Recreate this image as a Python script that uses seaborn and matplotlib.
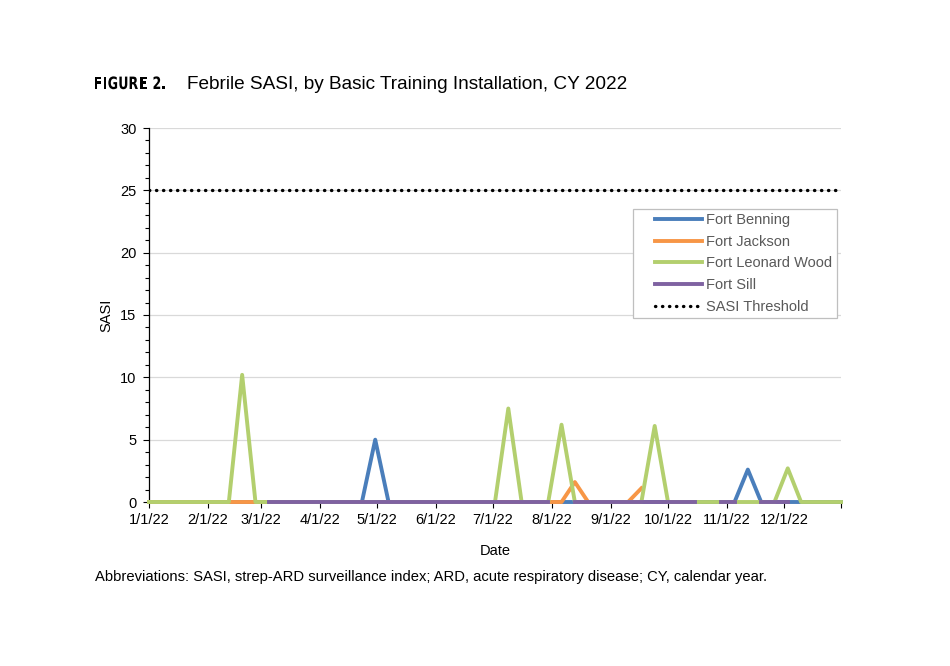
import pandas as pd
import numpy as np
import matplotlib
matplotlib.use("Agg")
import matplotlib.pyplot as plt
from matplotlib.lines import Line2D
from matplotlib.textpath import TextPath
from matplotlib.patches import PathPatch, Rectangle
from matplotlib.font_manager import FontProperties
from matplotlib.transforms import Affine2D
import seaborn as sns

# weekly reporting dates (Saturdays) for CY 2022
dates = pd.date_range("2022-01-01", "2022-12-31", freq="7D")

nan = np.nan
fort_benning = [0, 0, 0, 0, 0, 0, 0, 0, 0, 0, 0, 0, 0, 0, 0, 0, 0, 5.0,
                0, 0, 0, 0, 0, 0, 0, 0, 0, 0, 0, 0, 0, 0, 0, 0, 0, 0,
                0, 0, 0, 0, 0, 0, 0, 0, 0, 2.6, 0, 0, 0, 0, 0, 0, 0]
fort_jackson = [0, 0, 0, 0, 0, 0, 0, 0, 0, 0, 0, 0, 0, 0, 0, 0, 0, 0,
                0, 0, 0, 0, 0, 0, 0, 0, 0, 0, 0, 0, 0, 0, 1.6, 0, 0, 0,
                0, 1.1, nan, nan, nan, nan, nan, nan, nan, nan, nan, nan, nan, nan, nan, nan, nan]
fort_leonard_wood = [0, 0, 0, 0, 0, 0, 0, 10.2, 0, 0, 0, 0, 0, 0, 0, 0, 0, 0,
                     0, 0, 0, 0, 0, 0, 0, 0, 0, 7.5, 0, 0, 0, 6.2, 0, 0, 0, 0,
                     0, 0, 6.1, 0, 0, 0, 0, 0, 0, 0, 0, 0, 2.7, 0, 0, 0, 0]
fort_sill = [nan, nan, nan, nan, nan, nan, nan, nan, nan, 0, 0, 0, 0, 0, 0, 0, 0, 0,
             0, 0, 0, 0, 0, 0, 0, 0, 0, 0, 0, 0, 0, nan, 0, 0, 0, 0,
             0, 0, 0, 0, 0, 0, nan, 0, 0, nan, 0, 0, 0, nan, nan, nan, nan]
threshold = [25] * len(dates)

series_names = ["Fort Benning", "Fort Jackson", "Fort Leonard Wood", "Fort Sill"]
series_values = [fort_benning, fort_jackson, fort_leonard_wood, fort_sill]
colors = ["#4A7EBB", "#F79646", "#B3CF6E", "#7F62A1"]

# long format, with a segment id so gaps (missing weeks) stay as breaks
rows = []
for name, vals in zip(series_names, series_values):
    seg = 0
    prev_nan = False
    for d, v in zip(dates, vals):
        if np.isnan(v):
            prev_nan = True
            continue
        if prev_nan:
            seg += 1
            prev_nan = False
        rows.append({"Date": d, "SASI": v, "series": name, "seg": f"{name}-{seg}"})
df = pd.DataFrame(rows)

plt.rcParams["font.family"] = ["Liberation Sans", "DejaVu Sans"]

fig = plt.figure(figsize=(9.5, 6.66), dpi=100)
ax = fig.add_axes([149 / 950, 164 / 666, 692 / 950, 374 / 666])

dots = (0, (0.1, 2.0))
sns.lineplot(data=df, x="Date", y="SASI", hue="series", units="seg", estimator=None,
             hue_order=series_names, palette=colors, linewidth=2.8, legend=False,
             ax=ax, zorder=3, clip_on=False)
sns.lineplot(x=dates, y=threshold, color="black", linewidth=2.4,
             linestyle=dots, dash_capstyle="round", ax=ax, zorder=2)

ax.set_xlim(pd.Timestamp("2022-01-01"), pd.Timestamp("2022-12-31"))
ax.set_ylim(0, 30)

month_ticks = list(pd.date_range("2022-01-01", "2022-12-01", freq="MS"))
ax.set_xticks(month_ticks + [pd.Timestamp("2022-12-31")])
ax.set_xticklabels([f"{d.month}/{d.day}/22" for d in month_ticks] + [""], fontsize=10.5)
ax.set_yticks(range(0, 31, 5))
ax.set_yticks(range(0, 31, 1), minor=True)
ax.tick_params(axis="y", labelsize=10.5, length=4, width=0.8, pad=5)
ax.tick_params(axis="y", which="minor", length=3, width=0.8)
ax.tick_params(axis="x", length=4, width=0.8, pad=4)

ax.grid(axis="y", which="major", color="#D9D9D9", linewidth=0.9)
ax.set_axisbelow(True)
for s in ["top", "right"]:
    ax.spines[s].set_visible(False)
for s in ["left", "bottom"]:
    ax.spines[s].set_color("black")
    ax.spines[s].set_linewidth(0.9)
    ax.spines[s].set_zorder(1)

ax.set_xlabel("Date", fontsize=10.5, labelpad=12)
ax.set_ylabel("SASI", fontsize=10.5, labelpad=5)

# legend box drawn separately so its padding matches the original
ax.add_patch(Rectangle((0.699, 0.492), 0.295, 0.291, transform=ax.transAxes,
                       facecolor="white", edgecolor="#BFBFBF", linewidth=0.9,
                       zorder=4, clip_on=False))
handles = [Line2D([], [], color=c, linewidth=2.8) for c in colors]
handles.append(Line2D([], [], color="black", linewidth=2.4, linestyle=dots,
                      dash_capstyle="round"))
leg = ax.legend(handles, series_names + ["SASI Threshold"], loc="upper left",
                bbox_to_anchor=((655 - 149) / 692, 0.772), fontsize=10.5,
                frameon=False, handlelength=3.2, handletextpad=0.3,
                labelspacing=0.52, borderpad=0, borderaxespad=0)
leg.set_zorder(5)
for t in leg.get_texts():
    t.set_color("#595959")

# condensed, letter-spaced bold "FIGURE 2." built from glyph paths
label_prop = FontProperties(family="DejaVu Sans", weight="bold")
squeeze, tracking, space_w = 0.74, 2.3, 4.5
x = 95.0
for ch in "FIGURE 2.":
    if ch == " ":
        x += space_w
        continue
    p = TextPath((0, 0), ch, size=17, prop=label_prop)
    ext = p.get_extents()
    tf = (Affine2D().translate(-ext.x0, 0).scale(squeeze, 1).translate(x, 666 - 89)
          .scale(1 / 950, 1 / 666) + fig.transFigure)
    fig.patches.append(PathPatch(p, transform=tf, facecolor="black", lw=0))
    x += ext.width * squeeze + tracking

fig.text(187 / 950, 1 - 89 / 666, "Febrile SASI, by Basic Training Installation, CY 2022",
         fontsize=13.7, va="baseline")
fig.text(95 / 950, 1 - 581 / 666,
         "Abbreviations: SASI, strep-ARD surveillance index; ARD, acute respiratory disease; CY, calendar year.",
         fontsize=10.6, va="baseline")

fig.savefig("out.png", dpi=100, facecolor="white")
